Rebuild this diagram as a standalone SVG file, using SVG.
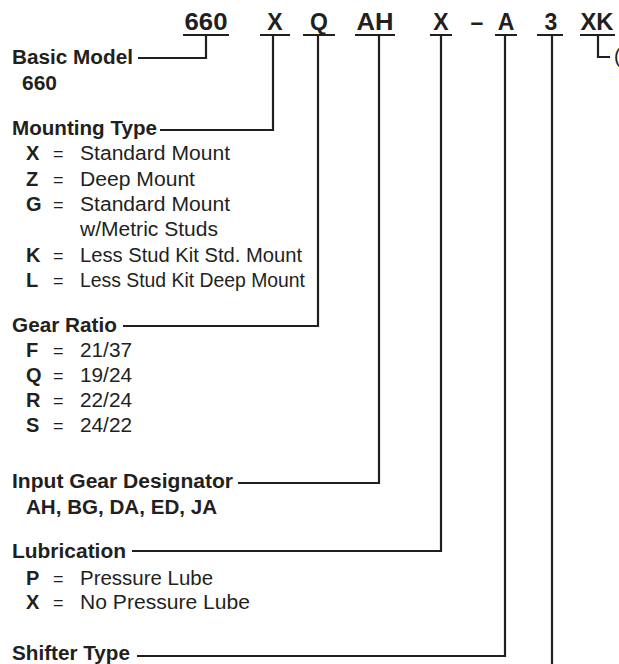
<svg xmlns="http://www.w3.org/2000/svg" width="619" height="664" viewBox="0 0 619 664">
<style>
text{font-family:"Liberation Sans",Arial,sans-serif;fill:#231f20}
.code{font-size:23px;font-weight:bold;text-anchor:middle}
.h{font-size:20px;font-weight:bold}
.k{font-size:20px;font-weight:bold}
.v{font-size:20px}
.eq{font-size:18px}
.ln{fill:none;stroke:#231f20;stroke-width:2.2}
</style>
<rect width="619" height="664" fill="#fff"/>
<g id="code">
<text class="code" x="206" y="30" textLength="43" lengthAdjust="spacingAndGlyphs">660</text>
<text class="code" x="275" y="30">X</text>
<text class="code" x="319" y="30">Q</text>
<text class="code" x="375" y="30" textLength="37" lengthAdjust="spacingAndGlyphs">AH</text>
<text class="code" x="441" y="30">X</text>
<text class="code" x="477" y="30">–</text>
<text class="code" x="506" y="30">A</text>
<text class="code" x="551" y="30">3</text>
<text class="code" x="597" y="30" textLength="33" lengthAdjust="spacingAndGlyphs">XK</text>
<text class="v" x="614" y="63">(</text>
</g>
<g id="connectors">
<path class="ln" d="M183 35H229M260 35H290M303 35H335M355 35H395M430 35H452M495 35H517M537 35H563M580 35H615"/>
<path class="ln" d="M206 35V58H138"/>
<path class="ln" d="M273 35V130H160"/>
<path class="ln" d="M318 35V326H123"/>
<path class="ln" d="M379 35V483H238"/>
<path class="ln" d="M441 35V551H132"/>
<path class="ln" d="M505 35V656H137"/>
<path class="ln" d="M552 35V664"/>
<path class="ln" d="M598 35V57H610"/>
</g>
<g id="basic-model">
<text class="h" x="12" y="64" textLength="121" lengthAdjust="spacingAndGlyphs">Basic Model</text>
<text class="h" x="22" y="90" textLength="35" lengthAdjust="spacingAndGlyphs">660</text>
</g>
<g id="mounting-type">
<text class="h" x="12" y="135" textLength="145" lengthAdjust="spacingAndGlyphs">Mounting Type</text>
<text class="k" x="26" y="160">X</text><text class="eq" x="53" y="160">=</text><text class="v" x="80" y="160" textLength="150" lengthAdjust="spacingAndGlyphs">Standard Mount</text>
<text class="k" x="26" y="186">Z</text><text class="eq" x="53" y="186">=</text><text class="v" x="80" y="186" textLength="115" lengthAdjust="spacingAndGlyphs">Deep Mount</text>
<text class="k" x="26" y="211">G</text><text class="eq" x="53" y="211">=</text><text class="v" x="80" y="211" textLength="150" lengthAdjust="spacingAndGlyphs">Standard Mount</text>
<text class="v" x="80" y="236" textLength="138" lengthAdjust="spacingAndGlyphs">w/Metric Studs</text>
<text class="k" x="26" y="262">K</text><text class="eq" x="53" y="262">=</text><text class="v" x="80" y="262" textLength="222" lengthAdjust="spacingAndGlyphs">Less Stud Kit Std. Mount</text>
<text class="k" x="26" y="287">L</text><text class="eq" x="53" y="287">=</text><text class="v" x="80" y="287" textLength="225" lengthAdjust="spacingAndGlyphs">Less Stud Kit Deep Mount</text>
</g>
<g id="gear-ratio">
<text class="h" x="12" y="332" textLength="105" lengthAdjust="spacingAndGlyphs">Gear Ratio</text>
<text class="k" x="26" y="357">F</text><text class="eq" x="53" y="357">=</text><text class="v" x="80" y="357" textLength="52" lengthAdjust="spacingAndGlyphs">21/37</text>
<text class="k" x="26" y="382">Q</text><text class="eq" x="53" y="382">=</text><text class="v" x="80" y="382" textLength="52" lengthAdjust="spacingAndGlyphs">19/24</text>
<text class="k" x="26" y="407">R</text><text class="eq" x="53" y="407">=</text><text class="v" x="80" y="407" textLength="52" lengthAdjust="spacingAndGlyphs">22/24</text>
<text class="k" x="26" y="432">S</text><text class="eq" x="53" y="432">=</text><text class="v" x="80" y="432" textLength="52" lengthAdjust="spacingAndGlyphs">24/22</text>
</g>
<g id="input-gear">
<text class="h" x="12" y="488" textLength="221" lengthAdjust="spacingAndGlyphs">Input Gear Designator</text>
<text class="h" x="26" y="514" textLength="191" lengthAdjust="spacingAndGlyphs">AH, BG, DA, ED, JA</text>
</g>
<g id="lubrication">
<text class="h" x="12" y="558" textLength="114" lengthAdjust="spacingAndGlyphs">Lubrication</text>
<text class="k" x="26" y="585">P</text><text class="eq" x="53" y="585">=</text><text class="v" x="80" y="585" textLength="133" lengthAdjust="spacingAndGlyphs">Pressure Lube</text>
<text class="k" x="26" y="609">X</text><text class="eq" x="53" y="609">=</text><text class="v" x="80" y="609" textLength="170" lengthAdjust="spacingAndGlyphs">No Pressure Lube</text>
</g>
<g id="shifter-type">
<text class="h" x="12" y="660" textLength="118" lengthAdjust="spacingAndGlyphs">Shifter Type</text>
</g>
</svg>
